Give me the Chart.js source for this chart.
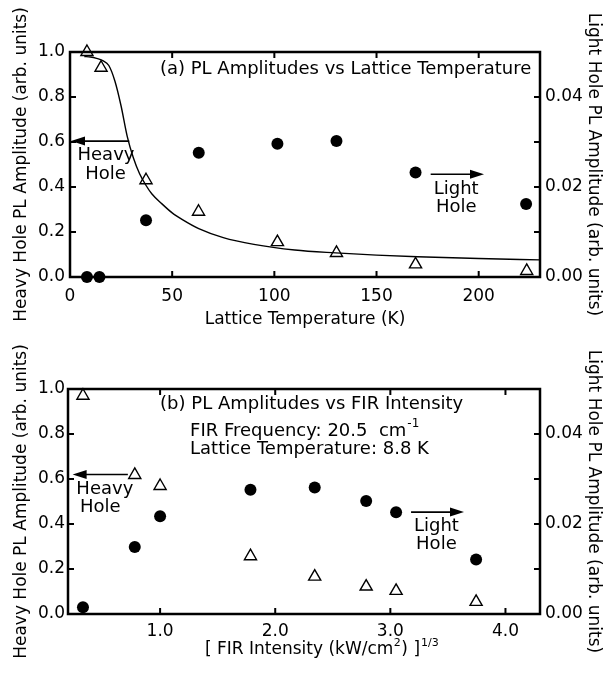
<!DOCTYPE html>
<html>
<head>
<meta charset="utf-8">
<script src="https://cdn.jsdelivr.net/npm/chart.js@4.4.1/dist/chart.umd.min.js"></script>
<style>
  body { margin: 0; background: #fff; }
  #wrap { position: relative; width: 606px; height: 673px; }
  canvas { position: absolute; left: 0; }
</style>
</head>
<body>
<div id="wrap">
  <canvas id="tempChart" width="606" height="330" style="top:0"></canvas>
  <canvas id="firChart" width="606" height="343" style="top:330px"></canvas>
</div>
<script>
// (a) amplitudes vs lattice temperature
const heavyTempK = [8.3, 15.2, 37.2, 62.9, 101.5, 130.4, 169.1, 223.5];
const heavyVsTemp = [1.0, 0.93, 0.43, 0.29, 0.155, 0.107, 0.056, 0.027];
const lightTempK = [8.3, 14.4, 37.2, 63.0, 101.5, 130.4, 169.1, 223.2];
const lightVsTemp = [0, 0, 0.0126, 0.0276, 0.0296, 0.0302, 0.0232, 0.0162];
// fitted curve through the heavy hole points
const fitTempK = [7, 10, 13, 16, 19, 22, 25, 28, 31, 34, 37, 40, 45, 50, 55, 63, 75, 90, 110, 130, 150, 170, 200, 230];
const fitVsTemp = [0.98, 0.978, 0.972, 0.962, 0.94, 0.87, 0.76, 0.625, 0.53, 0.46, 0.41, 0.37, 0.325, 0.285, 0.255, 0.215, 0.175, 0.145, 0.12, 0.107, 0.097, 0.09, 0.082, 0.076];

// (b) amplitudes vs FIR intensity
const firX = [0.33, 0.78, 1.0, 1.785, 2.343, 2.79, 3.05, 3.745];
const heavyVsFir = [0.97, 0.618, 0.569, 0.257, 0.166, 0.122, 0.103, 0.054];
const lightVsFir = [0.0015, 0.0149, 0.0217, 0.0276, 0.0281, 0.0251, 0.0226, 0.0121];

const FONT = 'DejaVu Sans';
const pts = (xs, ys) => xs.map((x, i) => ({ x: x, y: ys[i] }));

// box frame with inward tick marks
const boxTicks = {
  id: 'boxTicks',
  afterDatasetsDraw(chart) {
    const { ctx, chartArea: a, scales } = chart;
    const len = 6;
    ctx.save();
    ctx.strokeStyle = '#000';
    ctx.lineWidth = 2;
    ctx.beginPath();
    scales.x.ticks.forEach(t => {
      const px = scales.x.getPixelForValue(t.value);
      if (px <= a.left + 1 || px >= a.right - 1) return;
      ctx.moveTo(px, a.bottom); ctx.lineTo(px, a.bottom - len);
      ctx.moveTo(px, a.top); ctx.lineTo(px, a.top + len);
    });
    scales.y.ticks.forEach(t => {
      const py = scales.y.getPixelForValue(t.value);
      if (py <= a.top + 1 || py >= a.bottom - 1) return;
      ctx.moveTo(a.left, py); ctx.lineTo(a.left + len, py);
    });
    scales.y2.ticks.forEach(t => {
      const py = scales.y2.getPixelForValue(t.value);
      if (py <= a.top + 1 || py >= a.bottom - 1) return;
      ctx.moveTo(a.right, py); ctx.lineTo(a.right - len, py);
    });
    ctx.stroke();
    ctx.lineWidth = 2.5;
    ctx.strokeRect(a.left, a.top, a.right - a.left, a.bottom - a.top);
    ctx.restore();
  }
};

// text labels and arrows placed in data units
const notes = {
  id: 'notes',
  afterDraw(chart, args, opts) {
    const { ctx, scales } = chart;
    const X = v => scales.x.getPixelForValue(v);
    const Y = v => scales.y.getPixelForValue(v);
    ctx.save();
    ctx.fillStyle = '#000';
    ctx.strokeStyle = '#000';
    ctx.textBaseline = 'middle';
    (opts.texts || []).forEach(t => {
      ctx.font = (t.size || 18) + 'px "' + FONT + '"';
      ctx.textAlign = t.align || 'center';
      let x = X(t.x);
      const y = Y(t.y);
      ctx.fillText(t.text, x, y);
      if (t.sup) {
        const w = ctx.measureText(t.text).width;
        ctx.font = '12px "' + FONT + '"';
        ctx.textAlign = 'left';
        ctx.fillText(t.sup, x + w + 1, y - 7);
      }
    });
    (opts.arrows || []).forEach(ar => {
      const x1 = X(ar.from), x2 = X(ar.to), y = Y(ar.y);
      const dir = Math.sign(x2 - x1);
      ctx.lineWidth = 1.6;
      ctx.beginPath();
      ctx.moveTo(x1, y);
      ctx.lineTo(x2 - dir * 8, y);
      ctx.stroke();
      ctx.beginPath();
      ctx.moveTo(x2, y);
      ctx.lineTo(x2 - dir * 14, y - 4.5);
      ctx.lineTo(x2 - dir * 14, y + 4.5);
      ctx.closePath();
      ctx.fill();
    });
    if (opts.xTitle) {
      const a = chart.chartArea;
      const t = opts.xTitle;
      ctx.font = '17px "' + FONT + '"';
      const w1 = ctx.measureText(t.pre).width;
      const w3 = ctx.measureText(t.post).width;
      ctx.font = '11px "' + FONT + '"';
      const w2 = ctx.measureText(t.sup1).width;
      const cx = (a.left + a.right) / 2 + t.shift;
      const x0 = cx - (w1 + w2 + w3) / 2;
      const y = t.y;
      ctx.textAlign = 'left';
      ctx.font = '17px "' + FONT + '"';
      ctx.fillText(t.pre, x0, y);
      ctx.font = '11px "' + FONT + '"';
      ctx.fillText(t.sup1, x0 + w1 + 0.5, y - 7);
      ctx.font = '17px "' + FONT + '"';
      ctx.fillText(t.post, x0 + w1 + w2 + 1, y);
      const w4 = ctx.measureText(t.post).width;
      ctx.font = '11px "' + FONT + '"';
      ctx.fillText(t.sup2, x0 + w1 + w2 + w4 + 2, y - 7);
    }
    ctx.restore();
  }
};

function makeScales(cfg) {
  return {
    x: {
      type: 'linear',
      min: cfg.xMin, max: cfg.xMax,
      afterFit: s => { s.height = cfg.xHeight; },
      grid: { display: false, drawTicks: false },
      border: { display: false },
      ticks: {
        stepSize: cfg.xStep, includeBounds: false, padding: cfg.xPad,
        color: '#000', font: { family: FONT, size: 17 },
        callback: cfg.xFmt
      },
      title: {
        display: !!cfg.xTitle, text: cfg.xTitle || '', color: '#000',
        font: { family: FONT, size: 17 }, padding: { top: 0, bottom: 0 }
      }
    },
    y: {
      position: 'left', min: 0, max: 1,
      afterFit: s => { s.width = cfg.leftWidth; },
      grid: { display: false, drawTicks: false },
      border: { display: false },
      ticks: {
        stepSize: 0.2, padding: cfg.leftPad, color: '#000',
        font: { family: FONT, size: 17 },
        callback: v => v.toFixed(1)
      },
      title: {
        display: true, text: 'Heavy Hole PL Amplitude (arb. units)', color: '#000',
        font: { family: FONT, size: 17 }, padding: { top: 11, bottom: 0 }
      }
    },
    y2: {
      position: 'right', min: 0, max: 0.05,
      afterFit: s => { s.width = 66; },
      grid: { display: false, drawTicks: false },
      border: { display: false },
      ticks: {
        stepSize: 0.01, padding: 5, color: '#000',
        font: { family: FONT, size: 17 },
        callback: v => (Math.round(v * 100) % 2 === 0 ? v.toFixed(2) : '')
      },
      title: {
        display: true, text: 'Light Hole PL Amplitude (arb. units)', color: '#000',
        font: { family: FONT, size: 17 }, padding: { top: 2, bottom: 0 }
      }
    }
  };
}

function markerSets(heavy, light, fit) {
  const sets = [];
  if (fit) {
    sets.push({
      data: fit, yAxisID: 'y', showLine: true, borderColor: '#000',
      borderWidth: 1.4, pointRadius: 0, cubicInterpolationMode: 'monotone', clip: false
    });
  }
  sets.push({
    data: heavy, yAxisID: 'y', pointStyle: 'triangle', pointRadius: 7,
    borderColor: '#000', backgroundColor: '#fff', borderWidth: 1.4, clip: false
  });
  sets.push({
    data: light, yAxisID: 'y2', pointStyle: 'circle', pointRadius: 6,
    borderColor: '#000', backgroundColor: '#000', borderWidth: 0, clip: false
  });
  return sets;
}

new Chart(document.getElementById('tempChart'), {
  type: 'scatter',
  data: {
    datasets: markerSets(
      pts(heavyTempK, heavyVsTemp),
      pts(lightTempK, lightVsTemp),
      pts(fitTempK, fitVsTemp)
    )
  },
  options: {
    responsive: false,
    animation: false,
    layout: { padding: { top: 52, left: 0, right: 0, bottom: 0 } },
    scales: makeScales({
      xMin: 0, xMax: 230, xStep: 50, xHeight: 53, xPad: 9,
      xFmt: v => String(v), xTitle: 'Lattice Temperature (K)',
      leftWidth: 70, leftPad: 5
    }),
    plugins: {
      legend: { display: false },
      tooltip: { enabled: false },
      notes: {
        texts: [
          { text: '(a) PL Amplitudes vs Lattice Temperature', x: 44, y: 0.924, align: 'left' },
          { text: 'Heavy', x: 17.6, y: 0.542 },
          { text: 'Hole', x: 17.4, y: 0.458 },
          { text: 'Light', x: 189, y: 0.39 },
          { text: 'Hole', x: 189, y: 0.308 }
        ],
        arrows: [
          { from: 29, to: 0.5, y: 0.604 },
          { from: 176.5, to: 202.6, y: 0.457 }
        ]
      }
    }
  },
  plugins: [boxTicks, notes]
});

new Chart(document.getElementById('firChart'), {
  type: 'scatter',
  data: {
    datasets: markerSets(
      pts(firX, heavyVsFir),
      pts(firX, lightVsFir),
      null
    )
  },
  options: {
    responsive: false,
    animation: false,
    layout: { padding: { top: 59, left: 0, right: 0, bottom: 0 } },
    scales: makeScales({
      xMin: 0.2, xMax: 4.3, xStep: 1, xHeight: 59, xPad: 7,
      xFmt: v => v.toFixed(1), xTitle: null,
      leftWidth: 68, leftPad: 3
    }),
    plugins: {
      legend: { display: false },
      tooltip: { enabled: false },
      notes: {
        texts: [
          { text: '(b) PL Amplitudes vs FIR Intensity', x: 1.0, y: 0.932, align: 'left' },
          { text: 'FIR Frequency: 20.5  cm', sup: '-1', x: 1.26, y: 0.814, align: 'left' },
          { text: 'Lattice Temperature: 8.8 K', x: 1.26, y: 0.733, align: 'left' },
          { text: 'Heavy', x: 0.52, y: 0.552 },
          { text: 'Hole', x: 0.48, y: 0.475 },
          { text: 'Light', x: 3.40, y: 0.39 },
          { text: 'Hole', x: 3.40, y: 0.308 }
        ],
        arrows: [
          { from: 0.72, to: 0.24, y: 0.62 },
          { from: 3.18, to: 3.64, y: 0.453 }
        ],
        xTitle: { pre: '[ FIR Intensity (kW/cm', sup1: '2', post: ') ]', sup2: '1/3', y: 320, shift: 8 }
      }
    }
  },
  plugins: [boxTicks, notes]
});
</script>
</body>
</html>
